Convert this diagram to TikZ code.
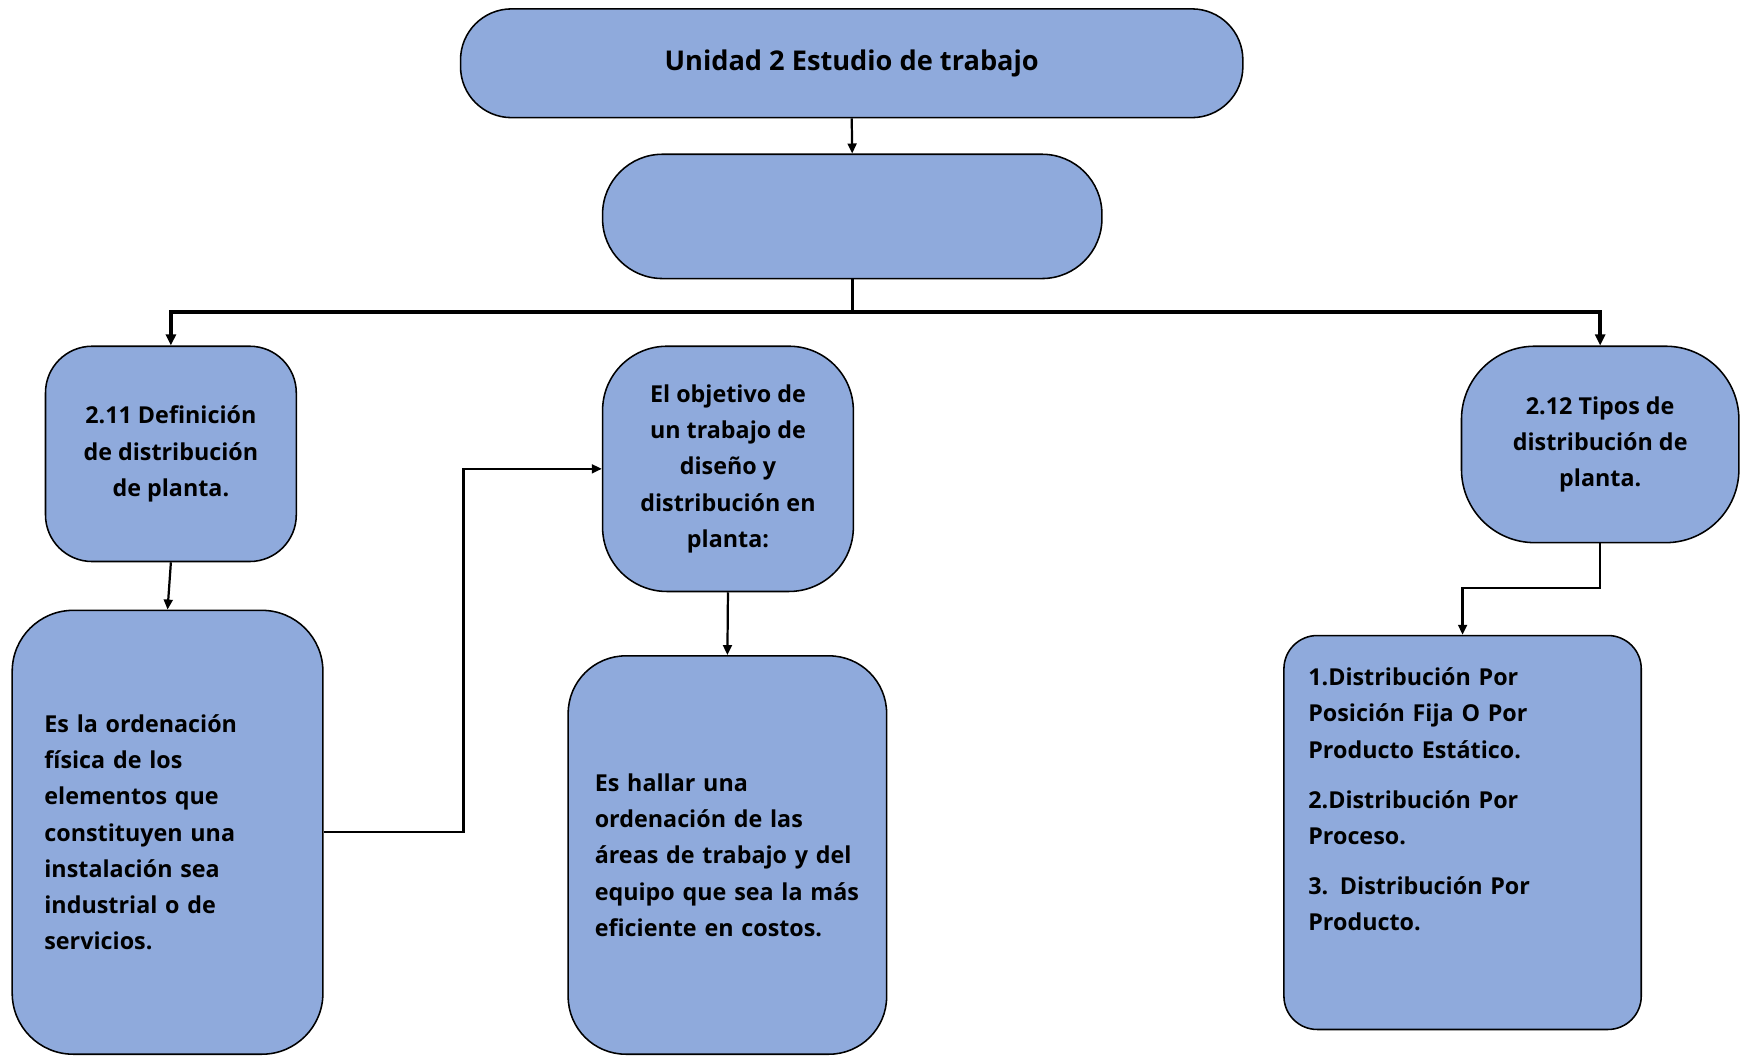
\documentclass[tikz,border=0pt]{standalone}
\usepackage{fontspec}
\setmainfont{Open Sans}
\usetikzlibrary{arrows.meta}
\definecolor{boxblue}{HTML}{8FAADC}

\begin{document}
\begin{tikzpicture}
[x=1pt, y=-1pt,
 every node/.style={font=\bfseries\fontsize{21}{32.7}\selectfont},
 topic/.style={draw, fill=boxblue, line width=1.4pt, rectangle, align=center},
 info/.style={draw, fill=boxblue, line width=1.4pt, rectangle, align=left},
 tline/.style={-{Triangle[length=9pt,width=8pt]}, line width=2pt},
 bus/.style={line width=3.4pt}]
\clip (0,0) rectangle (1568,951);

\node (unidad) at (767.5,57) [topic, minimum width=705, minimum height=98, rounded corners=46pt, font=\bfseries\fontsize{24.5}{30}\selectfont] {Unidad 2 Estudio de trabajo};
\node (blank) at (768,195) [topic, minimum width=450, minimum height=112, rounded corners=54pt] {};

\node (n211) at (154,409) [topic, minimum width=226, minimum height=194, rounded corners=42pt] {2.11 Definición\\de distribución\\de planta.};
\node (obj) at (656,422.5) [topic, minimum width=226, minimum height=221, rounded corners=58pt] {El objetivo de\\un trabajo de\\diseño y\\distribución en\\planta:};
\node (n212) at (1442,400.5) [topic, minimum width=250, minimum height=177, rounded corners=66pt] {2.12 Tipos de\\distribución de\\planta.};

\node (def) at (151,750) [info, text width=222, inner xsep=29, minimum height=400, rounded corners=55pt]
{Es la ordenación\\física de los\\elementos que\\constituyen una\\instalación sea\\industrial o de\\servicios.};
\node (hallar) at (655.5,770.5) [info, text width=239, inner xsep=24, minimum height=359, rounded corners=52pt]
{Es hallar una\\ordenación de las\\áreas de trabajo y del\\equipo que sea la más\\eficiente en costos.};
\node (tipos) at (1318,572) [info, anchor=north, text width=278, inner xsep=22, inner ysep=0, text height=45, text depth=310, rounded corners=30pt]
{1.Distribución Por\\Posición Fija O Por\\Producto Estático.\\[12.5pt]2.Distribución Por\\Proceso.\\[12.5pt]3. Distribución Por\\Producto.};

\coordinate (hub) at (768,281);
\coordinate (elbow) at (1318,530);

\draw[tline] (unidad.south) -- (blank.north);
\draw[line width=2.6pt] (blank.south) -- (hub);
\draw[bus, -{Triangle[length=10pt,width=9pt]}] (hub) -| (n211.north);
\draw[bus, -{Triangle[length=10pt,width=9pt]}] (hub) -| (n212.north);

\draw[tline] (n211.south) -- (def.north);
\draw[tline] (obj.south) -- (hallar.north);
\draw[tline] (def.east) -- ++(126,0) |- (obj.west);
\draw[tline] (n212.south) |- (elbow) -- (tipos.north);
\end{tikzpicture}
\end{document}
